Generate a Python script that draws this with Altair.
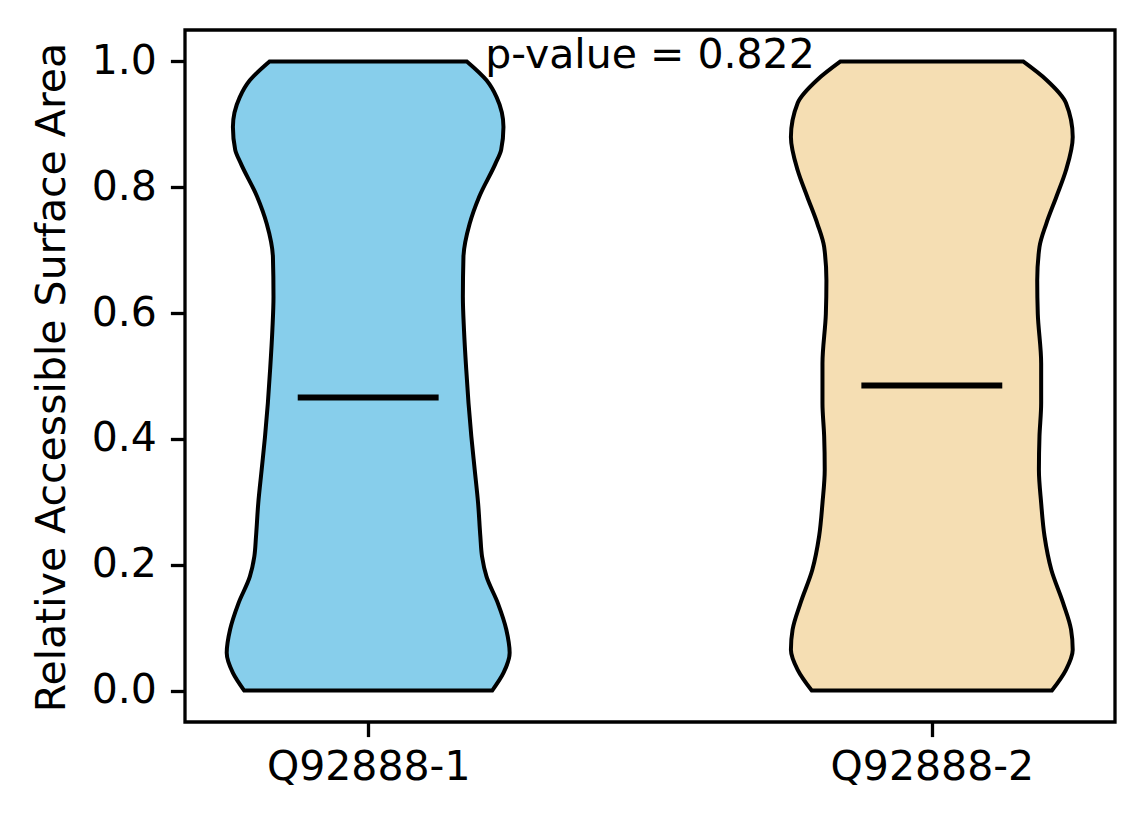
import altair as alt
import pandas as pd

categories = ["Q92888-1", "Q92888-2"]
positions = [1, 2]
colors = ["#87CEEB", "#F5DEB3"]
medians = [0.466, 0.485]
p_label = "p-value = 0.822"
p_pos = [1.5, 0.989]

# violin outlines: value (y) and half-width (x units)
v1_y = [0.000, 0.028, 0.060, 0.097, 0.139, 0.181, 0.213, 0.245, 0.298, 0.351, 0.404,
        0.457, 0.510, 0.573, 0.626, 0.689, 0.742, 0.785, 0.838, 0.860, 0.896, 0.943,
        0.970, 1.000]
v1_hw = [0.220, 0.240, 0.251, 0.245, 0.230, 0.210, 0.202, 0.199, 0.195, 0.189, 0.183,
         0.178, 0.174, 0.170, 0.168, 0.169, 0.180, 0.197, 0.226, 0.236, 0.240, 0.228,
         0.210, 0.175]
v2_y = [0.000, 0.033, 0.065, 0.097, 0.139, 0.192, 0.245, 0.298, 0.351, 0.404, 0.457,
        0.520, 0.599, 0.652, 0.705, 0.742, 0.785, 0.827, 0.880, 0.934, 0.971, 1.000]
v2_hw = [0.213, 0.238, 0.250, 0.247, 0.233, 0.212, 0.200, 0.194, 0.190, 0.191, 0.194,
         0.194, 0.188, 0.187, 0.191, 0.203, 0.221, 0.238, 0.250, 0.238, 0.203, 0.162]

rows = []
for cat, pos, ys, hws in [(categories[0], positions[0], v1_y, v1_hw),
                          (categories[1], positions[1], v2_y, v2_hw)]:
    for y, hw in zip(ys, hws):
        rows.append({"cat": cat, "y": y, "left": pos - hw, "right": pos + hw})
violins = pd.DataFrame(rows)

med_df = pd.DataFrame({
    "cat": categories,
    "m": medians,
    "x1": [p - 0.125 for p in positions],
    "x2": [p + 0.125 for p in positions],
})
txt_df = pd.DataFrame({"x": [p_pos[0]], "y": [p_pos[1]], "t": [p_label]})

FONT = "DejaVu Sans"
FS = 41

xscale = alt.Scale(domain=[0.675, 2.325], nice=False, zero=False)
yscale = alt.Scale(domain=[-0.05, 1.05], nice=False, zero=False)

label_expr = " : ".join(
    [f"datum.value == {p} ? '{c}'" for p, c in zip(positions[:-1], categories[:-1])]
    + [f"'{categories[-1]}'"]
)

x_axis = alt.Axis(values=positions, labelExpr=label_expr, title=None,
                  tickSize=14.6, tickWidth=3.3, tickColor="black",
                  labelFont=FONT, labelFontSize=FS, labelColor="black",
                  labelPadding=11, labelLimit=0, domain=False, grid=False)
y_axis = alt.Axis(values=[0.0, 0.2, 0.4, 0.6, 0.8, 1.0], format=".1f",
                  title="Relative Accessible Surface Area",
                  tickSize=14.6, tickWidth=3.3, tickColor="black",
                  labelFont=FONT, labelFontSize=FS, labelColor="black",
                  labelPadding=14, labelLimit=0, domain=False, grid=False,
                  titleFont=FONT, titleFontSize=FS, titleFontWeight="normal",
                  titleColor="black", titleAngle=270, titleX=-121, titleY=347,
                  titleAlign="center", titleBaseline="alphabetic", titleLimit=0)

area = alt.Chart(violins).mark_area(
    orient="horizontal", stroke="black", strokeWidth=4, interpolate="monotone",
    opacity=1
).encode(
    y=alt.Y("y:Q", scale=yscale, axis=y_axis),
    x=alt.X("left:Q", scale=xscale, axis=x_axis, stack=None),
    x2="right:Q",
    fill=alt.Fill("cat:N", scale=alt.Scale(domain=categories, range=colors), legend=None),
)

med = alt.Chart(med_df).mark_rule(color="black", strokeWidth=6).encode(
    x=alt.X("x1:Q", scale=xscale),
    x2="x2:Q",
    y=alt.Y("m:Q", scale=yscale),
)

txt = alt.Chart(txt_df).mark_text(
    font=FONT, fontSize=FS, color="black", align="center", baseline="alphabetic"
).encode(
    x=alt.X("x:Q", scale=xscale),
    y=alt.Y("y:Q", scale=yscale),
    text="t:N",
)

chart = alt.layer(area, med, txt).properties(
    width=930, height=692,
    background="white",
    autosize=alt.AutoSizeParams(type="none"),
    padding={"left": 177, "top": 22, "right": 21, "bottom": 94},
).configure_view(stroke="black", strokeWidth=3.3)

chart.save("out.html", embed_options={"renderer": "svg", "actions": False})
